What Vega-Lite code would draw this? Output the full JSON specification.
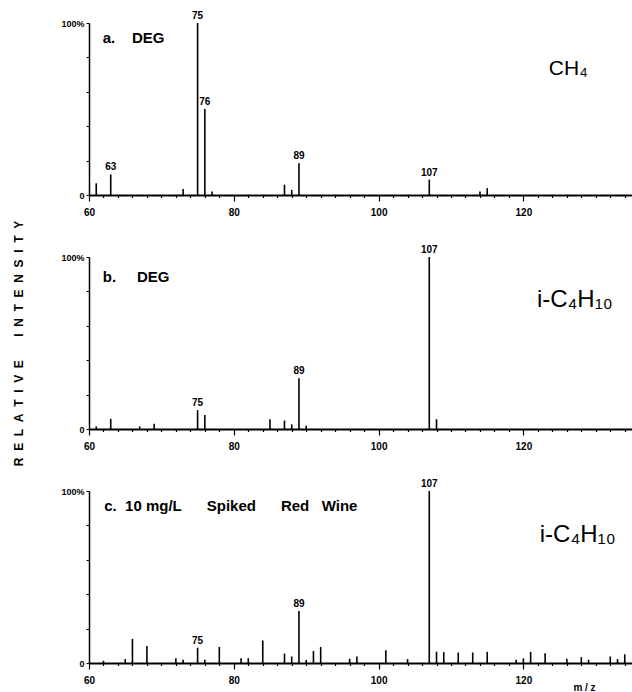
{
  "$schema": "https://vega.github.io/schema/vega-lite/v6.json",
  "background": "white",
  "padding": {"left": 12, "top": 11, "right": 0, "bottom": 0},
  "config": {"view": {"stroke": null}, "font": "Liberation Sans"},
  "spacing": 62,
  "bounds": "flush",
  "datasets": {
    "a": [
      {"mz": 61, "intensity": 6.8}, {"mz": 63, "intensity": 12}, {"mz": 73, "intensity": 3.5},
      {"mz": 75, "intensity": 100}, {"mz": 76, "intensity": 50}, {"mz": 77, "intensity": 2},
      {"mz": 87, "intensity": 6}, {"mz": 88, "intensity": 3}, {"mz": 89, "intensity": 18.5},
      {"mz": 107, "intensity": 9}, {"mz": 114, "intensity": 2}, {"mz": 115, "intensity": 4}
    ],
    "b": [
      {"mz": 61, "intensity": 1.5}, {"mz": 63, "intensity": 5.9}, {"mz": 67, "intensity": 1.5},
      {"mz": 69, "intensity": 3}, {"mz": 75, "intensity": 11}, {"mz": 76, "intensity": 8.1},
      {"mz": 85, "intensity": 5.7}, {"mz": 87, "intensity": 4.9}, {"mz": 88, "intensity": 2.7},
      {"mz": 89, "intensity": 29.5}, {"mz": 90, "intensity": 1.9}, {"mz": 107, "intensity": 100},
      {"mz": 108, "intensity": 5.7}
    ],
    "c": [
      {"mz": 62, "intensity": 1.3}, {"mz": 65, "intensity": 2.3}, {"mz": 66, "intensity": 14},
      {"mz": 68, "intensity": 9.9}, {"mz": 72, "intensity": 2.7}, {"mz": 73, "intensity": 1.9},
      {"mz": 75, "intensity": 8.9}, {"mz": 76, "intensity": 1.9}, {"mz": 78, "intensity": 9.3},
      {"mz": 81, "intensity": 2.7}, {"mz": 82, "intensity": 2.8}, {"mz": 84, "intensity": 13.1},
      {"mz": 87, "intensity": 5.5}, {"mz": 88, "intensity": 3.8}, {"mz": 89, "intensity": 30.2},
      {"mz": 90, "intensity": 1.7}, {"mz": 91, "intensity": 7}, {"mz": 92, "intensity": 9.3},
      {"mz": 96, "intensity": 2.5}, {"mz": 97, "intensity": 3.8}, {"mz": 101, "intensity": 7.4},
      {"mz": 104, "intensity": 2.3}, {"mz": 107, "intensity": 100}, {"mz": 108, "intensity": 6.6},
      {"mz": 109, "intensity": 6.3}, {"mz": 111, "intensity": 6.1}, {"mz": 113, "intensity": 6.1},
      {"mz": 115, "intensity": 6.5}, {"mz": 119, "intensity": 1.9}, {"mz": 120, "intensity": 2.7},
      {"mz": 121, "intensity": 6.5}, {"mz": 123, "intensity": 5.7}, {"mz": 126, "intensity": 2.5},
      {"mz": 128, "intensity": 3.4}, {"mz": 129, "intensity": 1.9}, {"mz": 132, "intensity": 3.8},
      {"mz": 133, "intensity": 2.3}, {"mz": 134, "intensity": 5.1}
    ]
  },
  "vconcat": [
    {
      "width": 543, "height": 172,
      "layer": [
        {
          "data": {"name": "a"},
          "mark": {"type": "rule", "color": "black", "strokeWidth": 1.6},
          "encoding": {
            "x": {"field": "mz", "type": "quantitative", "scale": {"domain": [60, 135], "nice": false, "zero": false},
              "axis": {"values": [60,62,64,66,68,70,72,74,76,78,80,82,84,86,88,90,92,94,96,98,100,102,104,106,108,110,112,114,116,118,120,122,124,126,128,130,132,134],
                "tickCount": 200, "format": "d",
                "labelExpr": "datum.value % 20 === 0 ? datum.label : ''", "labelOverlap": false, "labelFlush": false, "labelBound": false, "grid": false,
                "domainColor": "black", "domainWidth": 2, "tickColor": "black", "tickWidth": 1.2,
                "tickSize": {"condition": {"test": "datum.value % 20 === 0", "value": 6}, "value": 2.5},
                "labelFontSize": 10, "labelFontWeight": "bold", "labelColor": "black", "labelPadding": 6, "title": null}},
            "y": {"field": "intensity", "type": "quantitative", "scale": {"domain": [0, 100], "nice": false},
              "axis": {"values": [0,20,40,60,80,100], "tickCount": 50, "labelExpr": "datum.value === 100 ? '100%' : (datum.value === 0 ? '0' : '')",
                "grid": false, "domainColor": "black", "domainWidth": 1.5, "tickColor": "black", "tickSize": 3, "labelBound": false, "labelFlush": false,
                "labelFontSize": 9, "labelFontWeight": "bold", "labelColor": "black", "labelPadding": 2, "labelOverlap": false, "title": null}},
            "y2": {"datum": 0}
          }
        },
        {
          "data": {"name": "a"},
          "transform": [{"filter": {"field": "mz", "oneOf": [63, 75, 76, 89, 107]}}],
          "mark": {"type": "text", "baseline": "alphabetic", "dy": -4, "fontSize": 10, "fontWeight": "bold", "color": "black"},
          "encoding": {"x": {"field": "mz", "type": "quantitative"}, "y": {"field": "intensity", "type": "quantitative"}, "text": {"field": "mz"}}
        },
        {
          "data": {"values": [{"label": "a.\u00a0\u00a0\u00a0\u00a0DEG"}]},
          "mark": {"type": "text", "align": "left", "baseline": "alphabetic", "fontSize": 15, "fontWeight": "bold", "color": "black"},
          "encoding": {"x": {"datum": 61.9, "type": "quantitative"}, "y": {"datum": 88.4, "type": "quantitative"}, "text": {"field": "label"}}
        },
        {
          "data": {"values": [{"label": "CH₄"}]},
          "mark": {"type": "text", "align": "center", "baseline": "alphabetic", "fontSize": 21, "color": "black"},
          "encoding": {"x": {"datum": 126.2, "type": "quantitative"}, "y": {"datum": 70, "type": "quantitative"}, "text": {"field": "label"}}
        }
      ]
    },
    {
      "width": 543, "height": 172,
      "layer": [
        {
          "data": {"name": "b"},
          "mark": {"type": "rule", "color": "black", "strokeWidth": 1.6},
          "encoding": {
            "x": {"field": "mz", "type": "quantitative", "scale": {"domain": [60, 135], "nice": false, "zero": false},
              "axis": {"values": [60,62,64,66,68,70,72,74,76,78,80,82,84,86,88,90,92,94,96,98,100,102,104,106,108,110,112,114,116,118,120,122,124,126,128,130,132,134],
                "tickCount": 200, "format": "d",
                "labelExpr": "datum.value % 20 === 0 ? datum.label : ''", "labelOverlap": false, "labelFlush": false, "labelBound": false, "grid": false,
                "domainColor": "black", "domainWidth": 2, "tickColor": "black", "tickWidth": 1.2,
                "tickSize": {"condition": {"test": "datum.value % 20 === 0", "value": 6}, "value": 2.5},
                "labelFontSize": 10, "labelFontWeight": "bold", "labelColor": "black", "labelPadding": 6, "title": null}},
            "y": {"field": "intensity", "type": "quantitative", "scale": {"domain": [0, 100], "nice": false},
              "axis": {"values": [0,20,40,60,80,100], "tickCount": 50, "labelExpr": "datum.value === 100 ? '100%' : (datum.value === 0 ? '0' : '')",
                "grid": false, "domainColor": "black", "domainWidth": 1.5, "tickColor": "black", "tickSize": 3, "labelBound": false, "labelFlush": false,
                "labelFontSize": 9, "labelFontWeight": "bold", "labelColor": "black", "labelPadding": 2, "labelOverlap": false,
                "title": "R\u00a0\u00a0E\u00a0\u00a0L\u00a0\u00a0A\u00a0\u00a0T\u00a0\u00a0I\u00a0\u00a0V\u00a0\u00a0E\u00a0\u00a0\u00a0\u00a0\u00a0\u00a0\u00a0I\u00a0\u00a0N\u00a0\u00a0T\u00a0\u00a0E\u00a0\u00a0N\u00a0\u00a0S\u00a0\u00a0I\u00a0\u00a0T\u00a0\u00a0Y",
                "titleFontSize": 12, "titleFontWeight": "bold", "titleColor": "black", "titlePadding": 35}},
            "y2": {"datum": 0}
          }
        },
        {
          "data": {"name": "b"},
          "transform": [{"filter": {"field": "mz", "oneOf": [75, 89, 107]}}],
          "mark": {"type": "text", "baseline": "alphabetic", "dy": -4, "fontSize": 10, "fontWeight": "bold", "color": "black"},
          "encoding": {"x": {"field": "mz", "type": "quantitative"}, "y": {"field": "intensity", "type": "quantitative"}, "text": {"field": "mz"}}
        },
        {
          "data": {"values": [{"label": "b.\u00a0\u00a0\u00a0\u00a0\u00a0DEG"}]},
          "mark": {"type": "text", "align": "left", "baseline": "alphabetic", "fontSize": 15, "fontWeight": "bold", "color": "black"},
          "encoding": {"x": {"datum": 61.9, "type": "quantitative"}, "y": {"datum": 85.5, "type": "quantitative"}, "text": {"field": "label"}}
        },
        {
          "data": {"values": [{"label": "i-C₄H₁₀"}]},
          "mark": {"type": "text", "align": "center", "baseline": "alphabetic", "fontSize": 24, "color": "black"},
          "encoding": {"x": {"datum": 127.1, "type": "quantitative"}, "y": {"datum": 71, "type": "quantitative"}, "text": {"field": "label"}}
        }
      ]
    },
    {
      "width": 543, "height": 172,
      "layer": [
        {
          "data": {"name": "c"},
          "mark": {"type": "rule", "color": "black", "strokeWidth": 1.6},
          "encoding": {
            "x": {"field": "mz", "type": "quantitative", "scale": {"domain": [60, 135], "nice": false, "zero": false},
              "axis": {"values": [60,62,64,66,68,70,72,74,76,78,80,82,84,86,88,90,92,94,96,98,100,102,104,106,108,110,112,114,116,118,120,122,124,126,128,130,132,134],
                "tickCount": 200, "format": "d",
                "labelExpr": "datum.value % 20 === 0 ? datum.label : ''", "labelOverlap": false, "labelFlush": false, "labelBound": false, "grid": false,
                "domainColor": "black", "domainWidth": 2, "tickColor": "black", "tickWidth": 1.2,
                "tickSize": {"condition": {"test": "datum.value % 20 === 0", "value": 6}, "value": 2.5},
                "labelFontSize": 10, "labelFontWeight": "bold", "labelColor": "black", "labelPadding": 6,
                "title": "m / z", "titleFontSize": 10, "titleFontWeight": "bold", "titleColor": "black", "titleX": 495, "titleY": 27, "titleAlign": "center", "titleBaseline": "alphabetic"}},
            "y": {"field": "intensity", "type": "quantitative", "scale": {"domain": [0, 100], "nice": false},
              "axis": {"values": [0,20,40,60,80,100], "tickCount": 50, "labelExpr": "datum.value === 100 ? '100%' : (datum.value === 0 ? '0' : '')",
                "grid": false, "domainColor": "black", "domainWidth": 1.5, "tickColor": "black", "tickSize": 3, "labelBound": false, "labelFlush": false,
                "labelFontSize": 9, "labelFontWeight": "bold", "labelColor": "black", "labelPadding": 2, "labelOverlap": false, "title": null}},
            "y2": {"datum": 0}
          }
        },
        {
          "data": {"name": "c"},
          "transform": [{"filter": {"field": "mz", "oneOf": [75, 89, 107]}}],
          "mark": {"type": "text", "baseline": "alphabetic", "dy": -4, "fontSize": 10, "fontWeight": "bold", "color": "black"},
          "encoding": {"x": {"field": "mz", "type": "quantitative"}, "y": {"field": "intensity", "type": "quantitative"}, "text": {"field": "mz"}}
        },
        {
          "data": {"values": [{"label": "c.\u00a0\u00a010\u00a0mg/L\u00a0\u00a0\u00a0\u00a0\u00a0\u00a0Spiked\u00a0\u00a0\u00a0\u00a0\u00a0\u00a0Red\u00a0\u00a0\u00a0Wine"}]},
          "mark": {"type": "text", "align": "left", "baseline": "alphabetic", "fontSize": 15, "fontWeight": "bold", "color": "black"},
          "encoding": {"x": {"datum": 62.1, "type": "quantitative"}, "y": {"datum": 88.4, "type": "quantitative"}, "text": {"field": "label"}}
        },
        {
          "data": {"values": [{"label": "i-C₄H₁₀"}]},
          "mark": {"type": "text", "align": "center", "baseline": "alphabetic", "fontSize": 24, "color": "black"},
          "encoding": {"x": {"datum": 127.5, "type": "quantitative"}, "y": {"datum": 70.5, "type": "quantitative"}, "text": {"field": "label"}}
        }
      ]
    }
  ]
}
